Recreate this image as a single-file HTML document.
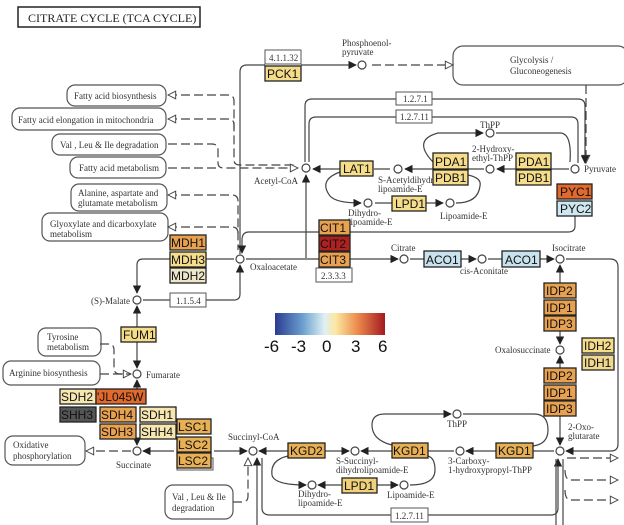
<!DOCTYPE html>
<html><head><meta charset="utf-8"><style>
html,body{margin:0;padding:0;background:#fff}
svg{display:block}
text{font-family:"Liberation Serif",serif;font-size:9px;fill:#333}
.g text{font-family:"Liberation Sans",sans-serif;font-size:12px;fill:#111}
.ln{fill:none;stroke:#444;stroke-width:1.2}
.ds{fill:none;stroke:#444;stroke-width:1.2;stroke-dasharray:9,4}
.pw{fill:#fff;stroke:#555;stroke-width:1.2}
.c{fill:#fff;stroke:#444;stroke-width:1.2}
.ec{fill:#fff;stroke:#555;stroke-width:1}
</style></head><body>
<svg width="624" height="525" viewBox="0 0 624 525" xmlns="http://www.w3.org/2000/svg">
<defs>
<linearGradient id="cb" x1="0" x2="1">
<stop offset="0" stop-color="#2b3b92"/><stop offset="0.25" stop-color="#6a9fcf"/><stop offset="0.45" stop-color="#dff0f4"/><stop offset="0.55" stop-color="#fbe8a2"/><stop offset="0.75" stop-color="#ec8b4d"/><stop offset="1" stop-color="#a3191f"/>
</linearGradient>
<marker id="a" viewBox="0 0 10 10" refX="9" refY="5" markerWidth="7" markerHeight="7" orient="auto"><path d="M0,0L10,5L0,10z" fill="#222"/></marker>
<marker id="o" viewBox="0 0 10 10" refX="9" refY="5" markerWidth="8" markerHeight="8" orient="auto-start-reverse"><path d="M1,1L9,5L1,9z" fill="#fff" stroke="#444"/></marker>
</defs>
<rect x="18" y="7" width="182" height="20" fill="#fff" stroke="#222" stroke-width="1.5"/>
<text x="28" y="22" style="font-size:12px;fill:#222">CITRATE CYCLE (TCA CYCLE)</text>

<!-- pathway boxes -->
<rect class="pw" x="67" y="85" width="99" height="21" rx="8"/><text x="74" y="99">Fatty acid biosynthesis</text>
<rect class="pw" x="12" y="108" width="154" height="22" rx="8"/><text x="18" y="123">Fatty acid elongation in mitochondria</text>
<rect class="pw" x="52" y="134" width="114" height="21" rx="8"/><text x="60" y="148">Val , Leu &amp; Ile degradation</text>
<rect class="pw" x="70" y="157" width="96" height="21" rx="8"/><text x="79" y="171">Fatty acid metabolism</text>
<rect class="pw" x="71" y="184" width="96" height="27" rx="8"/><text x="78" y="196">Alanine, aspartate and</text><text x="78" y="206">glutamate metabolism</text>
<rect class="pw" x="42" y="213" width="126" height="28" rx="8"/><text x="50" y="227">Glyoxylate and dicarboxylate</text><text x="50" y="237">metabolism</text>
<rect class="pw" x="453" y="46" width="175" height="39" rx="10"/><text x="510" y="63">Glycolysis /</text><text x="510" y="74">Gluconeogenesis</text>
<rect class="pw" x="38" y="328" width="63" height="28" rx="8"/><text x="47" y="340">Tyrosine</text><text x="47" y="350">metabolism</text>
<rect class="pw" x="3" y="361" width="97" height="24" rx="8"/><text x="9" y="376">Arginine biosynthesis</text>
<rect class="pw" x="5" y="436" width="80" height="29" rx="8"/><text x="13" y="448">Oxidative</text><text x="13" y="459">phosphorylation</text>
<rect class="pw" x="165" y="485" width="68" height="34" rx="8"/><text x="172" y="500">Val , Leu &amp; Ile</text><text x="172" y="511">degradation</text>

<!-- dashed connectors -->
<path class="ds" d="M168,95H228Q234,95 234,101V160Q234,165 240,165H296" marker-start="url(#o)"/>
<path class="ds" d="M168,119H228Q234,119 234,125V130" marker-start="url(#o)"/>
<path class="ds" d="M168,144H212Q218,144 218,150V163Q218,168 224,168H298" marker-end="url(#o)"/>
<path class="ds" d="M168,168H220"/>
<path class="ds" d="M168,195H232Q238,195 238,201V250" marker-start="url(#o)"/>
<path class="ds" d="M168,227H232Q238,227 238,233" marker-start="url(#o)"/>
<path class="ds" d="M372,65H453" marker-end="url(#o)"/>
<path class="ds" d="M586,85V163" marker-end="url(#o)"/>
<path class="ds" d="M100,344H108Q114,344 114,350V368Q114,374 120,374H131" marker-end="url(#o)"/>
<path class="ds" d="M100,374H131"/>
<path class="ds" d="M131,451H86" marker-end="url(#o)"/>
<path class="ds" d="M233,502H242Q248,502 248,496V458" marker-end="url(#o)"/>
<path class="ds" d="M567,458H618" marker-end="url(#o)"/>
<path class="ds" d="M565,470Q565,480 571,480H618" marker-end="url(#o)"/>
<path class="ds" d="M565,490Q565,500 571,500H618" marker-end="url(#o)"/>

<!-- solid connectors -->
<path class="ln" d="M301,65H356" marker-end="url(#a)"/>
<path class="ln" d="M240,254V72Q240,65 247,65H265"/>
<path class="ln" d="M305,162V106Q305,99 312,99H578Q585,99 585,106V163" marker-end="url(#a)"/>
<path class="ln" d="M309,162V124Q309,117 316,117H571Q578,117 578,124V163"/>
<path class="ln" d="M569,169H520M516,169H497" marker-end="url(#a)"/>
<path class="ln" d="M484,169H468M433,169H405" marker-end="url(#a)"/>
<path class="ln" d="M390,169H374M340,169H313" marker-end="url(#a)"/>
<path class="ln" d="M433,162Q412,140 438,133H483" marker-end="url(#a)"/>
<path class="ln" d="M496,133H560Q572,133 570,162"/>
<path class="ln" d="M340,172Q318,180 330,196Q336,203 361,203" marker-end="url(#a)"/>
<path class="ln" d="M426,203H443" marker-end="url(#a)"/>
<path class="ln" d="M456,203Q478,203 480,186Q482,178 468,175"/>
<path class="ln" d="M375,203H392"/>
<path class="ln" d="M575,216V226Q575,232 568,232H249Q242,232 242,240V253" marker-end="url(#a)"/>
<path class="ln" d="M306,258V175" marker-end="url(#a)"/>
<path class="ln" d="M246,259H398" marker-end="url(#a)"/>
<path class="ln" d="M410,259H424M461,259H476" marker-end="url(#a)"/>
<path class="ln" d="M488,259H502M540,259H554" marker-end="url(#a)"/>
<path class="ln" d="M566,259H610Q618,259 618,267V444Q618,451 611,451H566" marker-end="url(#a)"/>
<path class="ln" d="M234,259H143Q137,259 137,265V293" marker-end="url(#a)"/>
<path class="ln" d="M143,300H170M206,300H234Q240,300 240,294V265" marker-end="url(#a)"/>
<path class="ln" d="M560,283V265" marker-end="url(#a)"/>
<path class="ln" d="M560,331V344" marker-end="url(#a)"/>
<path class="ln" d="M560,368V356" marker-end="url(#a)"/>
<path class="ln" d="M560,416V445" marker-end="url(#a)"/>
<path class="ln" d="M137,327V306" marker-end="url(#a)"/>
<path class="ln" d="M137,342V368" marker-end="url(#a)"/>
<path class="ln" d="M137,389V380" marker-end="url(#a)"/>
<path class="ln" d="M137,439V445" marker-end="url(#a)"/>
<path class="ln" d="M174,451H143" marker-end="url(#a)"/>
<path class="ln" d="M214,451H247" marker-end="url(#a)"/>
<path class="ln" d="M288,451H259" marker-end="url(#a)"/>
<path class="ln" d="M325,451H349" marker-end="url(#a)"/>
<path class="ln" d="M392,451H361" marker-end="url(#a)"/>
<path class="ln" d="M496,451H466" marker-end="url(#a)"/>
<path class="ln" d="M554,451H533"/>
<path class="ln" d="M428,451H454"/>
<path class="ln" d="M392,445Q372,440 372,425Q372,414 385,414H451" marker-end="url(#a)"/>
<path class="ln" d="M463,414H534Q548,414 548,430Q548,444 533,446"/>
<path class="ln" d="M288,456Q270,460 272,475Q274,485 306,485" marker-end="url(#a)"/>
<path class="ln" d="M342,485H318" marker-end="url(#a)"/>
<path class="ln" d="M377,485H398" marker-end="url(#a)"/>
<path class="ln" d="M410,485Q435,485 435,470Q435,458 428,456"/>
<path class="ln" d="M257,525V458" marker-end="url(#a)"/>
<path class="ln" d="M262,458V508Q262,515 270,515H391M428,515H551Q558,515 558,508V459" marker-end="url(#a)"/>
<path class="ln" d="M556,525V459"/>
<path class="ln" d="M563,525V459"/>

<!-- EC number boxes -->
<rect class="ec" x="265" y="50" width="36" height="14"/><text x="269" y="61">4.1.1.32</text>
<rect class="ec" x="396" y="92" width="36" height="13"/><text x="403" y="102">1.2.7.1</text>
<rect class="ec" x="396" y="110" width="36" height="13"/><text x="400" y="120">1.2.7.11</text>
<rect class="ec" x="316" y="268" width="36" height="14"/><text x="321" y="279">2.3.3.3</text>
<rect class="ec" x="170" y="293" width="36" height="14"/><text x="176" y="304">1.1.5.4</text>
<rect class="ec" x="177" y="458" width="36" height="12"/><text x="181" y="468">2.8.3.18</text>
<rect class="ec" x="391" y="508" width="37" height="14"/><text x="395" y="519">1.2.7.11</text>

<!-- compounds -->
<g>
<circle class="c" cx="362" cy="65" r="4"/><circle class="c" cx="306" cy="168" r="4"/>
<circle class="c" cx="490" cy="133" r="4"/><circle class="c" cx="398" cy="169" r="4"/>
<circle class="c" cx="490" cy="169" r="4"/><circle class="c" cx="575" cy="169" r="4"/>
<circle class="c" cx="368" cy="203" r="4"/><circle class="c" cx="450" cy="203" r="4"/>
<circle class="c" cx="404" cy="259" r="4"/><circle class="c" cx="482" cy="259" r="4"/>
<circle class="c" cx="560" cy="259" r="4"/><circle class="c" cx="240" cy="259" r="4"/>
<circle class="c" cx="137" cy="300" r="4"/><circle class="c" cx="560" cy="350" r="4"/>
<circle class="c" cx="137" cy="374" r="4"/><circle class="c" cx="137" cy="451" r="4"/>
<circle class="c" cx="253" cy="451" r="4"/><circle class="c" cx="355" cy="451" r="4"/>
<circle class="c" cx="460" cy="451" r="4"/><circle class="c" cx="560" cy="451" r="4"/>
<circle class="c" cx="457" cy="414" r="4"/><circle class="c" cx="312" cy="485" r="4"/>
<circle class="c" cx="404" cy="485" r="4"/>
</g>
<text x="342" y="46">Phosphoenol-</text><text x="342" y="55">pyruvate</text>
<text x="254" y="184">Acetyl-CoA</text>
<text x="480" y="128">ThPP</text>
<text x="472" y="152">2-Hydroxy-</text><text x="472" y="161">ethyl-ThPP</text>
<text x="378" y="183">S-Acetyldihydro-</text><text x="378" y="192">lipoamide-E</text>
<text x="348" y="216">Dihydro-</text><text x="348" y="225">lipoamide-E</text>
<text x="440" y="219">Lipoamide-E</text>
<text x="584" y="172">Pyruvate</text>
<text x="391" y="251">Citrate</text><text x="460" y="274">cis-Aconitate</text><text x="552" y="251">Isocitrate</text>
<text x="250" y="270">Oxaloacetate</text>
<text x="91" y="304">(S)-Malate</text>
<text x="495" y="353">Oxalosuccinate</text>
<text x="146" y="378">Fumarate</text>
<text x="116" y="468">Succinate</text>
<text x="228" y="440">Succinyl-CoA</text>
<text x="447" y="427">ThPP</text>
<text x="336" y="464">S-Succinyl-</text><text x="336" y="473">dihydrolipoamide-E</text>
<text x="448" y="464">3-Carboxy-</text><text x="448" y="473">1-hydroxypropyl-ThPP</text>
<text x="568" y="430">2-Oxo-</text><text x="568" y="439">glutarate</text>
<text x="298" y="497">Dihydro-</text><text x="298" y="506">lipoamide-E</text>
<text x="387" y="498">Lipoamide-E</text>

<!-- genes -->
<g class="g" stroke="#222" stroke-width="1.3">
<rect x="265" y="66" width="36" height="15" fill="#f6dd8a"/>
<rect x="340" y="161" width="33" height="15" fill="#f6dd8a"/>
<rect x="433" y="153" width="35" height="16" fill="#f6dd8a"/><rect x="433" y="170" width="35" height="15" fill="#f6dd8a"/>
<rect x="516" y="153" width="35" height="16" fill="#f6dd8a"/><rect x="516" y="170" width="35" height="15" fill="#f6dd8a"/>
<rect x="557" y="184" width="35" height="15" fill="#e0692b"/><rect x="557" y="201" width="35" height="15" fill="#cfe8f0"/>
<rect x="392" y="196" width="34" height="15" fill="#f6dd8a"/>
<rect x="319" y="220" width="31" height="15" fill="#e8a14f"/><rect x="319" y="236" width="31" height="15" fill="#b0201f"/><rect x="319" y="252" width="31" height="15" fill="#e8a14f"/>
<rect x="424" y="251" width="37" height="16" fill="#c9e3ee"/><rect x="502" y="251" width="38" height="16" fill="#c9e3ee"/>
<rect x="170" y="235" width="36" height="15" fill="#e8a14f"/><rect x="170" y="252" width="36" height="15" fill="#f6dd8a"/><rect x="170" y="268" width="36" height="15" fill="#ede6c8"/>
<rect x="544" y="283" width="32" height="15" fill="#e8a14f"/><rect x="544" y="300" width="32" height="15" fill="#e8a14f"/><rect x="544" y="316" width="32" height="15" fill="#e8a14f"/>
<rect x="544" y="368" width="32" height="15" fill="#e8a14f"/><rect x="544" y="385" width="32" height="15" fill="#e8a14f"/><rect x="544" y="401" width="32" height="15" fill="#e8a14f"/>
<rect x="582" y="338" width="32" height="15" fill="#f6dd8a"/><rect x="582" y="355" width="32" height="15" fill="#f1d88f"/>
<rect x="121" y="327" width="35" height="15" fill="#f6dd8a"/>
<rect x="60" y="389" width="36" height="15" fill="#f6e6b0"/><rect x="96" y="389" width="50" height="15" fill="#e0692b"/>
<rect x="60" y="407" width="36" height="15" fill="#555"/><rect x="100" y="407" width="36" height="15" fill="#e8a14f"/><rect x="140" y="407" width="36" height="15" fill="#f6e6b0"/>
<rect x="100" y="424" width="36" height="15" fill="#e8a14f"/><rect x="140" y="424" width="36" height="15" fill="#f6e6b0"/>
<rect x="177" y="419" width="34" height="15" fill="#e8b055"/><rect x="177" y="437" width="34" height="15" fill="#e8b055"/><rect x="177" y="453" width="34" height="15" fill="#e8b055"/>
<rect x="288" y="443" width="37" height="15" fill="#e8b055"/><rect x="392" y="443" width="36" height="15" fill="#e8b055"/><rect x="496" y="443" width="37" height="15" fill="#e8b055"/>
<rect x="342" y="478" width="35" height="15" fill="#f1d07a"/>
</g>
<g class="g">
<text x="267" y="78">PCK1</text><text x="343" y="173">LAT1</text>
<text x="435" y="166">PDA1</text><text x="435" y="182">PDB1</text><text x="518" y="166">PDA1</text><text x="518" y="182">PDB1</text>
<text x="560" y="196">PYC1</text><text x="560" y="213">PYC2</text><text x="395" y="208">LPD1</text>
<text x="320" y="232">CIT1</text><text x="320" y="248">CIT2</text><text x="320" y="264">CIT3</text>
<text x="426" y="264">ACO1</text><text x="505" y="264">ACO1</text>
<text x="171" y="247">MDH1</text><text x="171" y="264">MDH3</text><text x="171" y="280">MDH2</text>
<text x="546" y="295">IDP2</text><text x="546" y="312">IDP1</text><text x="546" y="328">IDP3</text>
<text x="546" y="380">IDP2</text><text x="546" y="397">IDP1</text><text x="546" y="413">IDP3</text>
<text x="584" y="350">IDH2</text><text x="584" y="367">IDH1</text>
<text x="123" y="339">FUM1</text>
<text x="61" y="401">SDH2</text><text x="97" y="401">'JL045W</text>
<text x="61" y="419">SHH3</text><text x="101" y="419">SDH4</text><text x="141" y="419">SDH1</text>
<text x="101" y="436">SDH3</text><text x="141" y="436">SHH4</text>
<text x="178" y="431">LSC1</text><text x="178" y="449">LSC2</text><text x="178" y="465">LSC2</text>
<text x="290" y="455">KGD2</text><text x="393" y="455">KGD1</text><text x="498" y="455">KGD1</text>
<text x="344" y="490">LPD1</text>
</g>

<!-- color bar -->
<rect x="275" y="313" width="110" height="22" fill="url(#cb)"/>
<text x="264" y="352" style="font-family:'Liberation Sans',sans-serif;font-size:17px;fill:#111">-6</text>
<text x="291" y="352" style="font-family:'Liberation Sans',sans-serif;font-size:17px;fill:#111">-3</text>
<text x="322" y="352" style="font-family:'Liberation Sans',sans-serif;font-size:17px;fill:#111">0</text>
<text x="351" y="352" style="font-family:'Liberation Sans',sans-serif;font-size:17px;fill:#111">3</text>
<text x="378" y="352" style="font-family:'Liberation Sans',sans-serif;font-size:17px;fill:#111">6</text>
</svg>
</body></html>
